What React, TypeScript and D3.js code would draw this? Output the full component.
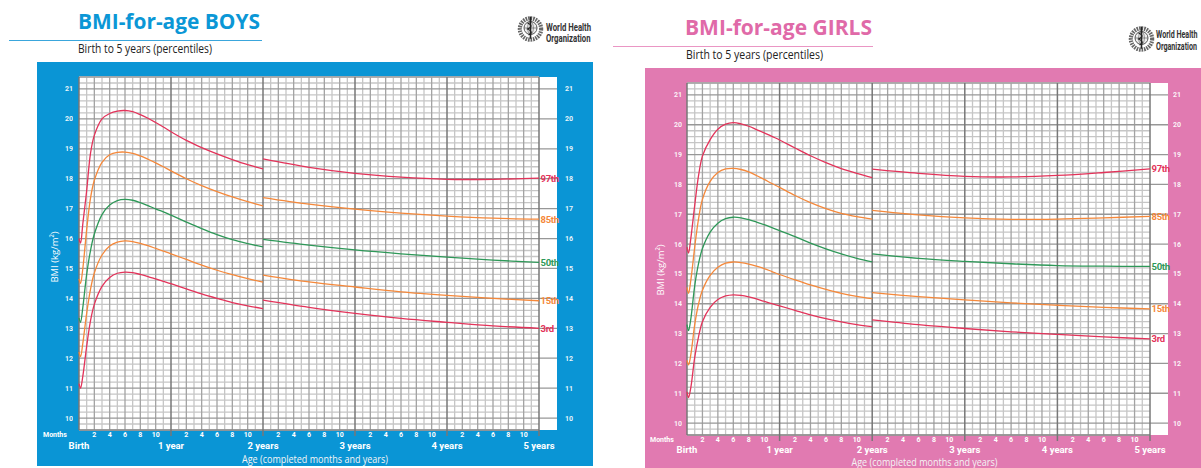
import React from "react";
import * as d3 from "d3";

// ---------- data ----------
const infantMonths = [0, 0.2, 0.5, 1, 1.5, 2, 3, 4, 5, 6, 7, 8, 9, 10, 11, 12, 14, 16, 18, 20, 22, 24];
const childMonths = [24, 30, 36, 42, 48, 54, 60];
const percentileNames = ["3rd", "15th", "50th", "85th", "97th"];
const bmiTicks = [10, 11, 12, 13, 14, 15, 16, 17, 18, 19, 20, 21];
const yearLabels = ["Birth", "1 year", "2 years", "3 years", "4 years", "5 years"];
const monthTickLabels = [2, 4, 6, 8, 10];

const boysInfant3rd = [11.15, 11.0, 11.4, 12.4, 13.25, 13.8, 14.4, 14.7, 14.84, 14.88, 14.86, 14.8, 14.73, 14.65, 14.57, 14.49, 14.32, 14.15, 14.0, 13.86, 13.75, 13.66];
const boysInfant15th = [12.2, 12.05, 12.5, 13.5, 14.3, 14.85, 15.45, 15.75, 15.88, 15.92, 15.9, 15.84, 15.76, 15.67, 15.58, 15.49, 15.3, 15.11, 14.94, 14.79, 14.66, 14.54];
const boysInfant50th = [13.35, 13.2, 13.7, 14.8, 15.6, 16.15, 16.8, 17.12, 17.27, 17.31, 17.28, 17.2, 17.1, 16.99, 16.89, 16.78, 16.55, 16.33, 16.13, 15.96, 15.83, 15.72];
const boysInfant85th = [14.65, 14.5, 15.0, 16.3, 17.35, 17.95, 18.55, 18.8, 18.88, 18.89, 18.85, 18.76, 18.65, 18.53, 18.4, 18.26, 18.0, 17.77, 17.57, 17.39, 17.23, 17.09];
const boysInfant97th = [16.0, 15.85, 16.5, 17.6, 18.85, 19.45, 20.0, 20.18, 20.26, 20.28, 20.24, 20.14, 20.02, 19.88, 19.73, 19.57, 19.28, 19.04, 18.83, 18.64, 18.47, 18.33];

const boysChild3rd = [13.94, 13.7, 13.5, 13.33, 13.2, 13.08, 13.0];
const boysChild15th = [14.78, 14.55, 14.38, 14.22, 14.1, 14.0, 13.92];
const boysChild50th = [15.97, 15.78, 15.62, 15.49, 15.38, 15.28, 15.2];
const boysChild85th = [17.37, 17.15, 16.98, 16.85, 16.75, 16.68, 16.65];
const boysChild97th = [18.66, 18.38, 18.18, 18.05, 17.98, 17.98, 18.02];

const girlsInfant3rd = [11.05, 10.85, 11.2, 12.2, 12.9, 13.4, 13.88, 14.14, 14.26, 14.3, 14.28, 14.23, 14.16, 14.08, 14.0, 13.93, 13.78, 13.63, 13.5, 13.39, 13.3, 13.23];
const girlsInfant15th = [12.1, 11.95, 12.3, 13.3, 14.0, 14.45, 14.95, 15.22, 15.36, 15.4, 15.38, 15.33, 15.26, 15.18, 15.08, 14.98, 14.8, 14.63, 14.48, 14.35, 14.25, 14.17];
const girlsInfant50th = [13.3, 13.1, 13.5, 14.6, 15.35, 15.85, 16.4, 16.7, 16.85, 16.9, 16.88, 16.82, 16.74, 16.65, 16.55, 16.45, 16.25, 16.03, 15.84, 15.67, 15.52, 15.4];
const girlsInfant85th = [14.55, 14.35, 14.8, 15.9, 16.85, 17.5, 18.1, 18.4, 18.52, 18.54, 18.5, 18.42, 18.3, 18.17, 18.03, 17.9, 17.63, 17.39, 17.19, 17.03, 16.92, 16.84];
const girlsInfant97th = [15.9, 15.7, 16.2, 17.3, 18.3, 18.95, 19.5, 19.85, 20.02, 20.07, 20.03, 19.95, 19.84, 19.73, 19.61, 19.49, 19.22, 18.96, 18.73, 18.53, 18.37, 18.23];

const girlsChild3rd = [13.46, 13.3, 13.17, 13.06, 12.97, 12.89, 12.82];
const girlsChild15th = [14.37, 14.24, 14.13, 14.03, 13.95, 13.88, 13.83];
const girlsChild50th = [15.67, 15.52, 15.42, 15.34, 15.28, 15.26, 15.25];
const girlsChild85th = [17.13, 16.98, 16.88, 16.83, 16.84, 16.88, 16.93];
const girlsChild97th = [18.51, 18.37, 18.27, 18.25, 18.3, 18.4, 18.52];

const boysInfant = [boysInfant3rd, boysInfant15th, boysInfant50th, boysInfant85th, boysInfant97th];
const boysChild = [boysChild3rd, boysChild15th, boysChild50th, boysChild85th, boysChild97th];
const girlsInfant = [girlsInfant3rd, girlsInfant15th, girlsInfant50th, girlsInfant85th, girlsInfant97th];
const girlsChild = [girlsChild3rd, girlsChild15th, girlsChild50th, girlsChild85th, girlsChild97th];

// ---------- styles ----------
const RED = "#e3335a";
const ORANGE = "#f5883a";
const GREEN = "#2e9858";
const pctColors = [RED, ORANGE, GREEN, ORANGE, RED];

type Cfg = {
  px: number; py: number; pw: number; ph: number; panelColor: string;
  gx0: number; gx1: number; gy0: number; gy1: number; strip: number;
  leftLabX: number; rightLabX: number; yLabelX: number; yLabelY: number;
  monthsX: number; yearY: number; ageY: number;
};

const boysCfg: Cfg = {
  px: 37, py: 62, pw: 556, ph: 404, panelColor: "#0a95d5",
  gx0: 79, gx1: 539, gy0: 77, gy1: 430, strip: 557,
  leftLabX: 73, rightLabX: 565, yLabelX: 58, yLabelY: 257, monthsX: 43, yearY: 448.5, ageY: 462.5,
};
const girlsCfg: Cfg = {
  px: 645, py: 68, pw: 560, ph: 400, panelColor: "#e17ab1",
  gx0: 687, gx1: 1150, gy0: 83, gy1: 435, strip: 1168,
  leftLabX: 682, rightLabX: 1173, yLabelX: 664, yLabelY: 270, monthsX: 650, yearY: 452.5, ageY: 465.5,
};

function Panel({ cfg, infant, child }: { cfg: Cfg; infant: number[][]; child: number[][] }) {
  const x = d3.scaleLinear().domain([0, 60]).range([cfg.gx0, cfg.gx1]);
  const y = d3.scaleLinear().domain([9.6, 21.4]).range([cfg.gy1, cfg.gy0]);
  const line = d3
    .line<[number, number]>()
    .x((d) => x(d[0]))
    .y((d) => y(d[1]))
    .curve(d3.curveCatmullRom.alpha(0.5));
  const months = d3.range(0, 61);
  const hVals = d3.range(0, 60).map((i) => +(9.6 + i * 0.2).toFixed(1));
  const isInt = (v: number) => Math.abs(v - Math.round(v)) < 1e-6;
  const lightV = months.filter((m) => m % 2 === 1);
  const medV = months.filter((m) => m % 2 === 0 && m % 12 !== 0);
  const yearV = months.filter((m) => m % 12 === 0);
  const lightH = hVals.filter((v) => !isInt(v));
  const intH = hVals.filter((v) => isInt(v));
  const tickFont = "Roboto, 'DejaVu Sans', sans-serif";
  return (
    <g>
      <rect x={cfg.px} y={cfg.py} width={cfg.pw} height={cfg.ph} fill={cfg.panelColor} />
      <rect x={cfg.gx0} y={cfg.gy0} width={cfg.strip - cfg.gx0} height={cfg.gy1 - cfg.gy0} fill="#fff" />
      {lightH.map((v) => (
        <line key={"lh" + v} x1={cfg.gx0} x2={cfg.gx1} y1={y(v)} y2={y(v)} stroke="#c6c6c6" strokeWidth={1.3} />
      ))}
      {lightV.map((m) => (
        <line key={"lv" + m} x1={x(m)} x2={x(m)} y1={cfg.gy0} y2={cfg.gy1} stroke="#c6c6c6" strokeWidth={1.3} />
      ))}
      {medV.map((m) => (
        <line key={"mv" + m} x1={x(m)} x2={x(m)} y1={cfg.gy0} y2={cfg.gy1} stroke="#a3a3a3" strokeWidth={1.3} />
      ))}
      {intH.map((v) => (
        <line key={"ih" + v} x1={cfg.gx0} x2={cfg.strip} y1={y(v)} y2={y(v)} stroke="#979797" strokeWidth={1.3} />
      ))}
      <line x1={cfg.gx0} x2={cfg.gx1} y1={cfg.gy0} y2={cfg.gy0} stroke="#a3a3a3" strokeWidth={1.3} />
      <line x1={cfg.gx0} x2={cfg.gx1} y1={cfg.gy1} y2={cfg.gy1} stroke="#888" strokeWidth={1.3} />
      {yearV.map((m) => (
        <line key={"yv" + m} x1={x(m)} x2={x(m)} y1={cfg.gy0} y2={m === 0 ? cfg.gy1 : cfg.gy1 + 6} stroke="#777" strokeWidth={1.5} />
      ))}
      {/* curves */}
      {infant.map((vals, i) => (
        <path key={"ic" + i} d={line(infantMonths.map((m, j) => [m, vals[j]]) as [number, number][]) || ""} fill="none" stroke={pctColors[i]} strokeWidth={1.3} />
      ))}
      {child.map((vals, i) => (
        <path key={"cc" + i} d={line(childMonths.map((m, j) => [m, vals[j]]) as [number, number][]) || ""} fill="none" stroke={pctColors[i]} strokeWidth={1.3} />
      ))}
      {child.map((vals, i) => (
        <text key={"pl" + i} x={cfg.gx1 + 1.5} y={y(vals[vals.length - 1]) + 3.5} fill={pctColors[i]} fontSize={9.5} fontWeight={700} fontFamily="'Liberation Sans Narrow', Roboto, sans-serif" letterSpacing={-0.3}>
          {percentileNames[i]}
        </text>
      ))}
      {/* y tick labels */}
      {bmiTicks.map((t) => (
        <text key={"ly" + t} x={cfg.leftLabX} y={y(t) + 2.5} textAnchor="end" fill="#fff" fontSize={7} fontWeight={700} fontFamily={tickFont} opacity={0.9}>
          {t}
        </text>
      ))}
      {bmiTicks.map((t) => (
        <text key={"ry" + t} x={cfg.rightLabX} y={y(t) + 2.5} fill="#fff" fontSize={7} fontWeight={700} fontFamily={tickFont} opacity={0.9}>
          {t}
        </text>
      ))}
      <text transform={`translate(${cfg.yLabelX},${cfg.yLabelY}) rotate(-90)`} textAnchor="middle" fill="#fff" fontSize={9.5} fontFamily="'Open Sans', sans-serif">
        BMI (kg/m²)
      </text>
      {/* x labels */}
      <text x={cfg.monthsX} y={cfg.gy1 + 6.5} fill="#fff" fontSize={7} fontWeight={700} fontFamily={tickFont}>Months</text>
      {d3.range(0, 5).flatMap((yr) =>
        monthTickLabels.map((m) => (
          <text key={"mt" + yr + "_" + m} x={x(yr * 12 + m)} y={cfg.gy1 + 6.5} textAnchor="middle" fill="#fff" fontSize={7} fontWeight={700} fontFamily={tickFont}>
            {m}
          </text>
        ))
      )}
      {yearLabels.map((lab, i) => (
        <text key={"yl" + i} x={x(i * 12)} y={cfg.yearY} textAnchor="middle" fill="#fff" fontSize={9.5} fontWeight={700} fontFamily={tickFont}>
          {lab}
        </text>
      ))}
      <text x={(cfg.gx0 + cfg.gx1) / 2 + 6} y={cfg.ageY} textAnchor="middle" fill="#f4f4f4" fontSize={11} fontFamily="'Open Sans', sans-serif" textLength={146} lengthAdjust="spacingAndGlyphs">
        Age (completed months and years)
      </text>
    </g>
  );
}

function Emblem({ cx, cy, r }: { cx: number; cy: number; r: number }) {
  return (
    <g fill="none">
      <circle cx={cx} cy={cy} r={r * 0.82} stroke="#666" strokeWidth={r * 0.32} strokeDasharray="1.6 0.9" />
      <circle cx={cx} cy={cy - 1} r={r * 0.5} stroke="#444" strokeWidth={0.9} fill="#eee" />
      <line x1={cx - r * 0.5} x2={cx + r * 0.5} y1={cy - 1} y2={cy - 1} stroke="#555" strokeWidth={0.6} />
      <ellipse cx={cx} cy={cy - 1} rx={r * 0.22} ry={r * 0.5} stroke="#555" strokeWidth={0.6} />
      <line x1={cx} x2={cx} y1={cy - r * 0.95} y2={cy + r * 0.75} stroke="#222" strokeWidth={1.6} />
      <path d={`M${cx - 3},${cy - 6} Q${cx + 4},${cy - 3} ${cx - 3},${cy} Q${cx + 4},${cy + 3} ${cx - 2},${cy + 6}`} stroke="#222" strokeWidth={1.1} />
    </g>
  );
}

function WhoText({ x, y1, y2, sx }: { x: number; y1: number; y2: number; sx: number }) {
  const f = "Roboto, 'DejaVu Sans', sans-serif";
  return (
    <g>
      <text transform={`translate(${x},${y1}) scale(${sx},1)`} fill="#333" fontSize={10.5} fontWeight={700} fontFamily={f}>World Health</text>
      <text transform={`translate(${x},${y2}) scale(${sx},1)`} fill="#333" fontSize={10.5} fontWeight={700} fontFamily={f}>Organization</text>
    </g>
  );
}

export default function App() {
  const titleFont = "'Open Sans', 'Noto Sans', sans-serif";
  return (
    <svg width={1201} height={468} style={{ position: "absolute", left: 0, top: 0, background: "#fff" }}>
      {/* Boys header */}
      <text x={78} y={29} fill="#0b97d6" fontSize={21} fontWeight={700} fontFamily={titleFont} textLength={182} lengthAdjust="spacingAndGlyphs">
        BMI-for-age BOYS
      </text>
      <line x1={9} x2={262} y1={40.5} y2={40.5} stroke="#3aa6dc" strokeWidth={1} />
      <text x={78} y={52.5} fill="#222" fontSize={12} fontFamily={titleFont} textLength={134} lengthAdjust="spacingAndGlyphs">
        Birth to 5 years (percentiles)
      </text>
      <Emblem cx={530.5} cy={29} r={13} />
      <WhoText x={546} y1={30.5} y2={41.5} sx={0.74} />

      {/* Girls header */}
      <text x={685} y={35} fill="#e06aa8" fontSize={21} fontWeight={700} fontFamily={titleFont} textLength={187} lengthAdjust="spacingAndGlyphs">
        BMI-for-age GIRLS
      </text>
      <line x1={613} x2={873} y1={46.5} y2={46.5} stroke="#ea96c4" strokeWidth={1} />
      <text x={686} y={59} fill="#222" fontSize={12} fontFamily={titleFont} textLength={137} lengthAdjust="spacingAndGlyphs">
        Birth to 5 years (percentiles)
      </text>
      <Emblem cx={1141.5} cy={39} r={13} />
      <WhoText x={1156} y1={38} y2={49.5} sx={0.68} />

      <Panel cfg={boysCfg} infant={boysInfant} child={boysChild} />
      <Panel cfg={girlsCfg} infant={girlsInfant} child={girlsChild} />
    </svg>
  );
}
